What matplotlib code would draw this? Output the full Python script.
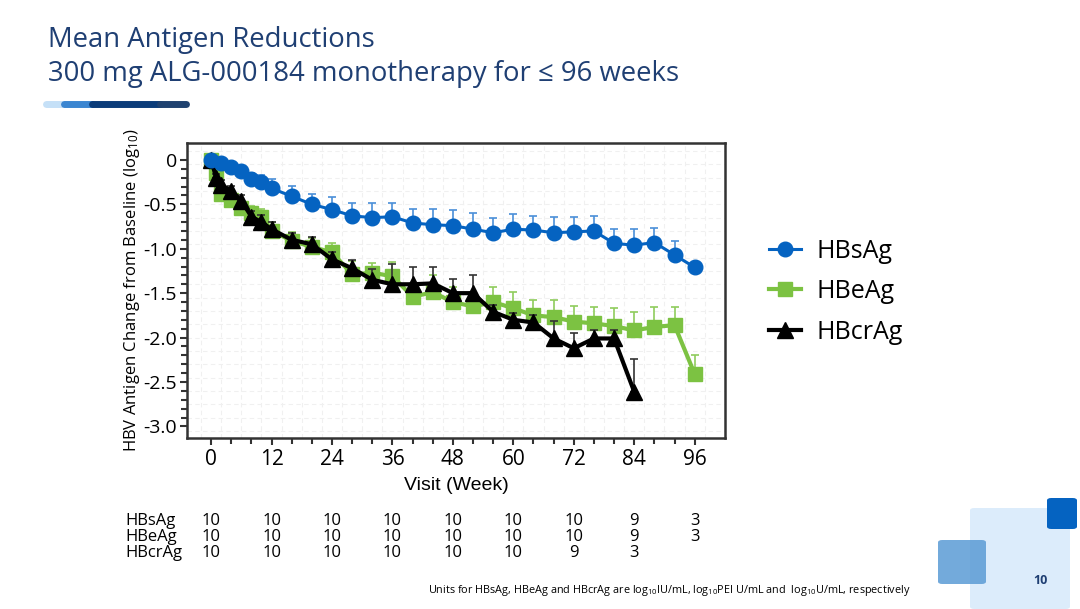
import numpy as np
import matplotlib.pyplot as plt
import matplotlib.transforms as mtransforms
from matplotlib.patches import FancyBboxPatch

plt.rcParams['font.family'] = ['Open Sans', 'DejaVu Sans']
plt.rcParams['mathtext.default'] = 'regular'

# Visit weeks
weeks_s = [0, 2, 4, 6, 8, 10, 12, 16, 20, 24, 28, 32, 36, 40, 44, 48, 52, 56,
           60, 64, 68, 72, 76, 80, 84, 88, 92, 96]
weeks_e = [0, 1, 2, 4, 6, 8, 10, 12, 16, 20, 24, 28, 32, 36, 40, 44, 48, 52, 56,
           60, 64, 68, 72, 76, 80, 84, 88, 92, 96]
weeks_cr = [0, 1, 2, 4, 6, 8, 10, 12, 16, 20, 24, 28, 32, 36, 40, 44, 48, 52, 56,
            60, 64, 68, 72, 76, 80, 84]

# Mean change from baseline (log10)
hbsag = [0, -0.04, -0.08, -0.13, -0.21, -0.25, -0.32, -0.41, -0.50, -0.56,
         -0.63, -0.65, -0.64, -0.71, -0.73, -0.74, -0.78, -0.82, -0.78, -0.79,
         -0.82, -0.81, -0.80, -0.94, -0.96, -0.93, -1.07, -1.21]
hbsag_se = [0.02, 0.03, 0.04, 0.05, 0.06, 0.08, 0.10, 0.12, 0.12, 0.14,
            0.15, 0.16, 0.15, 0.16, 0.18, 0.18, 0.18, 0.17, 0.17, 0.16,
            0.18, 0.17, 0.17, 0.16, 0.18, 0.16, 0.16, 0.05]

hbeag = [0, -0.15, -0.38, -0.45, -0.54, -0.60, -0.64, -0.80, -0.91, -0.98,
         -1.04, -1.29, -1.27, -1.31, -1.54, -1.49, -1.60, -1.65, -1.60, -1.67,
         -1.75, -1.77, -1.82, -1.84, -1.87, -1.92, -1.88, -1.86, -2.41]
hbeag_se = [0.02, 0.04, 0.05, 0.06, 0.07, 0.08, 0.09, 0.10, 0.10, 0.10,
            0.10, 0.15, 0.11, 0.16, 0.14, 0.19, 0.17, 0.12, 0.17, 0.18,
            0.17, 0.19, 0.18, 0.18, 0.20, 0.21, 0.22, 0.20, 0.21]

hbcrag = [0, -0.20, -0.28, -0.35, -0.46, -0.64, -0.70, -0.78, -0.90, -0.95,
          -1.12, -1.22, -1.35, -1.40, -1.40, -1.39, -1.50, -1.50, -1.71, -1.80,
          -1.83, -2.01, -2.12, -2.01, -2.01, -2.61]
hbcrag_se = [0.02, 0.04, 0.05, 0.06, 0.06, 0.07, 0.08, 0.08, 0.08, 0.08,
             0.08, 0.09, 0.12, 0.23, 0.20, 0.19, 0.16, 0.20, 0.08, 0.08,
             0.08, 0.20, 0.17, 0.10, 0.10, 0.37]

# Number of subjects table
n_weeks = [0, 12, 24, 36, 48, 60, 72, 84, 96]
n_hbsag = [10, 10, 10, 10, 10, 10, 10, 9, 3]
n_hbeag = [10, 10, 10, 10, 10, 10, 10, 9, 3]
n_hbcrag = [10, 10, 10, 10, 10, 10, 9, 3]

blue = '#0563c1'
green = '#7cc242'
navy = '#1f3f73'

fig = plt.figure(figsize=(10.8, 6.09), dpi=100)
ax = fig.add_axes([0.1731, 0.2808, 0.4981, 0.4844])

# faint background grid
for gx in np.arange(-2, 102, 4):
    ax.axvline(gx, color='#f0f0f0', lw=0.8, ls=(0, (4, 3)), zorder=0)
for gy in np.arange(0.1, -3.2, -0.15):
    ax.axhline(gy, color='#f0f0f0', lw=0.8, ls=(0, (4, 3)), zorder=0)

def series(x, y, se, color, ecolor, marker, ms, lw, label, z):
    ax.errorbar(x, y, yerr=[np.zeros(len(se)), se], fmt='none', ecolor=ecolor,
                elinewidth=1.2, capsize=3, capthick=1.2, zorder=z)
    ax.plot(x, y, color=color, marker=marker, ms=ms, lw=lw, label=label, zorder=z + 0.5)

series(weeks_e, hbeag, hbeag_se, green, '#8fcc5c', 's', 10, 3, 'HBeAg', 2)
series(weeks_cr, hbcrag, hbcrag_se, 'black', '#333333', '^', 11, 3, 'HBcrAg', 3)
series(weeks_s, hbsag, hbsag_se, blue, '#4a8fd8', 'o', 10.5, 2.2, 'HBsAg', 4)

ax.set_xlim(-4.8, 102)
ax.set_ylim(-3.13, 0.19)
ax.set_xticks(n_weeks)
ax.set_xticks(np.arange(0, 97, 4), minor=True)
ax.set_yticks([0, -0.5, -1.0, -1.5, -2.0, -2.5, -3.0])
ax.set_yticklabels(['0', '-0.5', '-1.0', '-1.5', '-2.0', '-2.5', '-3.0'])
ax.set_yticks(np.arange(0, -3.05, -0.1), minor=True)
ax.tick_params(axis='both', which='major', labelsize=14, length=5, width=1.5,
               color='#333333', pad=2)
ax.tick_params(axis='x', which='major', labelsize=15, pad=3)
ax.tick_params(axis='both', which='minor', length=4, width=1.5, color='#333333')
for sp in ax.spines.values():
    sp.set_linewidth(1.8)
    sp.set_color('#333333')

ax.set_xlabel('Visit (Week)', fontsize=14, family=['Liberation Sans', 'DejaVu Sans'],
              labelpad=5)
ax.set_ylabel('HBV Antigen Change from Baseline (log$_{10}$)', fontsize=12, labelpad=1)

# legend
h, l = ax.get_legend_handles_labels()
order = [2, 0, 1]
fig.legend([h[i] for i in order], [l[i] for i in order], loc='upper left',
           bbox_to_anchor=(0.691, 0.645), frameon=False, fontsize=18,
           handlelength=1.3, labelspacing=0.62, handletextpad=0.6)

# N table below
tr = mtransforms.blended_transform_factory(ax.transData, fig.transFigure)
rows = [('HBsAg', n_hbsag, 0.1445), ('HBeAg', n_hbeag, 0.1182), ('HBcrAg', n_hbcrag, 0.0920)]
for name, vals, yy in rows:
    fig.text(0.1157, yy, name, fontsize=12, va='center', ha='left')
    for wk, v in zip(n_weeks, vals):
        ax.text(wk, yy, str(v), transform=tr, fontsize=12, va='center', ha='center')

# title
fig.text(0.044, 1 - 40 / 609, 'Mean Antigen Reductions', fontsize=19.8, color=navy,
         va='center')
fig.text(0.044, 1 - 74 / 609, '300 mg ALG-000184 monotherapy for \u2264 96 weeks',
         fontsize=19.8, color=navy, va='center')

# decorative bar under title
yb = 1 - 104 / 609
for x0, x1, c in [(46, 62, '#c5e0f7'), (64, 92, '#3b86d1'), (92, 160, '#0b3c7a'),
                  (160, 186, '#1f4270')]:
    fig.add_artist(plt.Line2D([x0 / 1080, x1 / 1080], [yb, yb], color=c, lw=5,
                              solid_capstyle='round', transform=fig.transFigure))

# decorative squares bottom right
def box(x, y, w, hgt, c, a=1.0):
    fig.add_artist(FancyBboxPatch((x / 1080, 1 - (y + hgt) / 609), w / 1080, hgt / 609,
                                  boxstyle='round,pad=0,rounding_size=0.004',
                                  transform=fig.transFigure, fc=c, ec='none', alpha=a))

box(970, 508, 100, 101, '#dcecfb')
box(938, 540, 48, 44, '#5b9bd5', 0.85)
box(1047, 498, 30, 31, '#0563c1')
fig.text(1040 / 1080, 1 - 580 / 609, '10', fontsize=9, color=navy, weight='bold',
         ha='center', va='center')

# footnote
fig.text(428 / 1080, 1 - 591 / 609,
         'Units for HBsAg, HBeAg and HBcrAg are log$_{10}$IU/mL, log$_{10}$PEI U/mL and  '
         'log$_{10}$U/mL, respectively', fontsize=7.8, va='center')

fig.savefig('out.png', dpi=100)
